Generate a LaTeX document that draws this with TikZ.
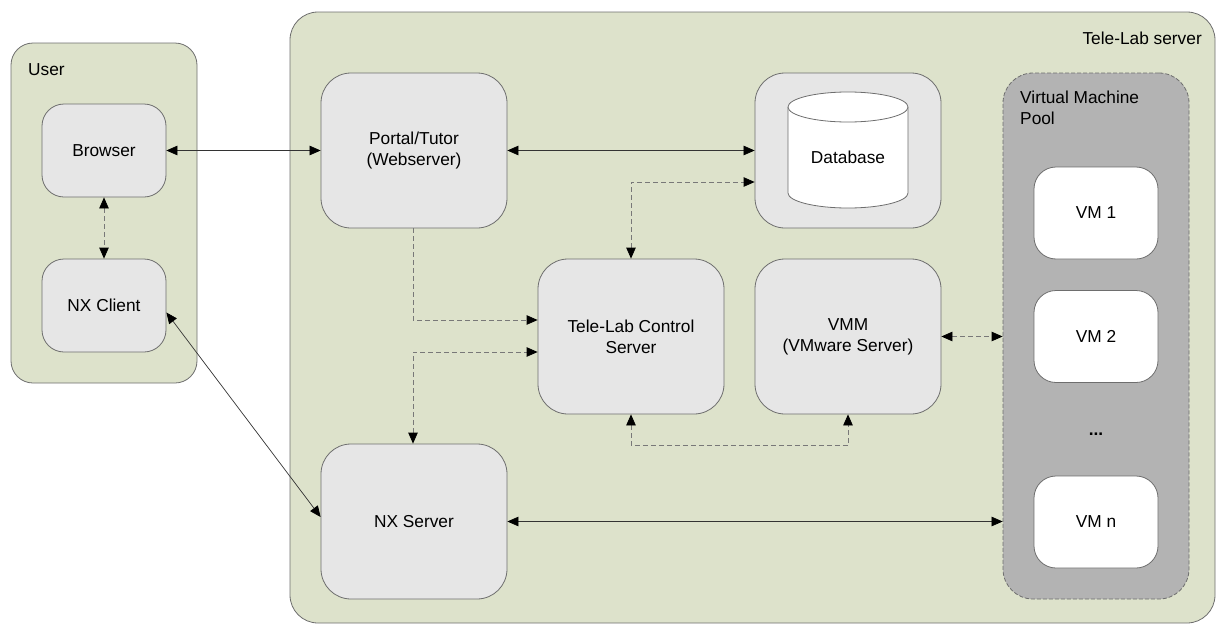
\documentclass[tikz,border=0pt]{standalone}
\usepackage{fontspec}
\setmainfont{Liberation Sans}
\usetikzlibrary{arrows.meta,calc}
\definecolor{bggreen}{RGB}{221,226,203}
\definecolor{nodegray}{RGB}{230,230,230}
\definecolor{poolgray}{RGB}{179,179,179}
\definecolor{bordergray}{RGB}{110,110,110}
\definecolor{dashgray}{RGB}{120,120,120}
\tikzset{
  container/.style={draw=bordergray, fill=bggreen, line width=0.8pt},
  compbox/.style={draw=bordergray, fill=nodegray, line width=0.8pt, rounded corners=30pt,
    minimum width=186pt, minimum height=155pt, inner sep=0pt, align=center},
  smallbox/.style={draw=bordergray, fill=nodegray, line width=0.8pt, rounded corners=22pt,
    minimum width=124pt, minimum height=93pt, inner sep=0pt, align=center},
  vmbox/.style={draw=bordergray, fill=white, line width=0.8pt, rounded corners=22pt,
    minimum width=124pt, minimum height=92pt, inner sep=0pt, align=center},
  poolbox/.style={draw=bordergray, fill=poolgray, line width=0.8pt, dash pattern=on 4pt off 2pt,
    rounded corners=30pt, minimum width=186pt, minimum height=526pt, inner sep=0pt},
  txt/.style={inner sep=0pt, align=left},
  solidlink/.style={draw=black!80, line width=0.7pt, {Triangle[length=11pt,width=9.5pt,color=black]}-{Triangle[length=11pt,width=9.5pt,color=black]}},
  dashlink/.style={draw=dashgray, line width=0.8pt, dash pattern=on 5pt off 3pt},
  dtip/.style={-{Triangle[length=11pt,width=9.5pt,color=black]}},
  dtips/.style={{Triangle[length=11pt,width=9.5pt,color=black]}-{Triangle[length=11pt,width=9.5pt,color=black]}},
}
\begin{document}
\begin{tikzpicture}[x=1pt,y=-1pt]
\fontsize{17.3}{21}\selectfont
\useasboundingbox (0,0) rectangle (1216,624);
% containers
\draw[container, rounded corners=22pt] (11,43) rectangle (197,383);
\draw[container, rounded corners=28pt] (290,12) rectangle (1215,623);
\node[txt, anchor=west] (userlbl) at (28,70) {User};
\node[txt, anchor=east] (tllbl) at (1202,38) {Tele-Lab server};
% user side
\node[smallbox] (browser) at (104,150.5) {Browser};
\node[smallbox] (nxc) at (104,305.5) {NX Client};
% server side
\node[compbox] (portal) at (414,150.5) {Portal/Tutor\\(Webserver)};
\node[compbox] (dbbox) at (848,150.5) {};
\draw[draw=bordergray, fill=white, line width=0.8pt] (788,107) -- (788,193)
  arc[start angle=180, end angle=0, x radius=60, y radius=15] -- (908,107);
\draw[draw=bordergray, fill=white, line width=0.8pt] (848,107) ellipse[x radius=60, y radius=15];
\node[txt] (dblbl) at (848,157) {Database};
\node[compbox] (ctrl) at (631,336.5) {Tele-Lab Control\\Server};
\node[compbox] (vmm) at (848,336.5) {VMM\\(VMware Server)};
\node[compbox] (nxs) at (414,521.5) {NX Server};
% pool
\node[poolbox] (pool) at (1096,336) {};
\node[txt, anchor=north west] (poollbl) at (1020,91) {Virtual Machine\\Pool};
\node[vmbox] (vm1) at (1096,213) {VM 1};
\node[vmbox] (vm2) at (1096,336.5) {VM 2};
\node[txt] (dots) at (1096,434) {\textbf{...}};
\node[vmbox] (vmn) at (1096,522) {VM n};
% solid connectors
\draw[solidlink] (browser.east) -- (portal.west);
\draw[solidlink] (portal.east) -- (dbbox.west);
\draw[solidlink] (nxs.east) -- (nxs.east -| pool.west);
\draw[solidlink] ([yshift=-7pt]nxc.east) -- ([yshift=4.5pt]nxs.west);
% dashed connectors
\draw[dashlink, dtips] (browser.south) -- (nxc.north);
\draw[dashlink, dtips] (ctrl.north) |- ([yshift=-31.5pt]dbbox.west);
\draw[dashlink, dtip] ([xshift=-1pt]portal.south) |- ([yshift=16.5pt]ctrl.west);
\draw[dashlink, dtips] ([xshift=-1pt]nxs.north) |- ([yshift=-15.5pt]ctrl.west);
\coordinate (ctrlbelow) at ($(ctrl.south)+(0,31)$);
\draw[dashlink, dtips] (ctrl.south) -- (ctrlbelow) -| (vmm.south);
\draw[dashlink, dtips] (vmm.east) -- (vmm.east -| pool.west);
\end{tikzpicture}
\end{document}
